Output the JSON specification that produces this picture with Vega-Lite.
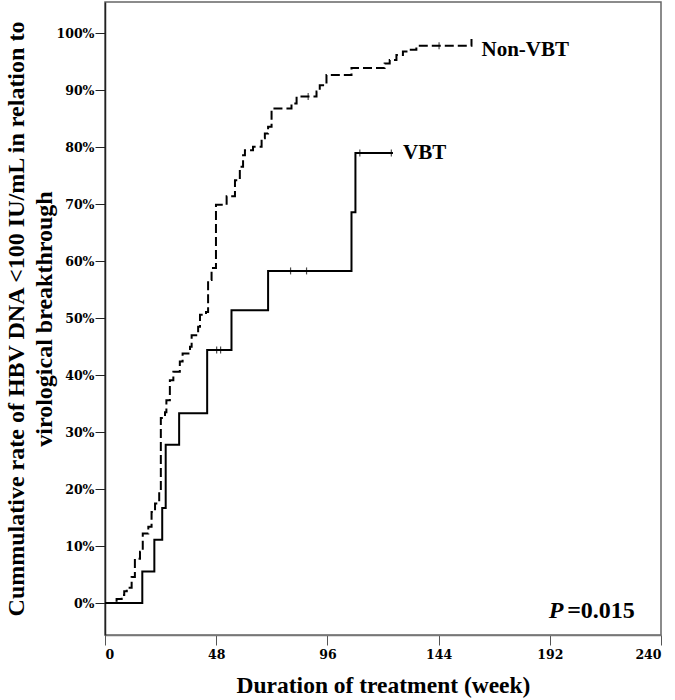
{
  "$schema": "https://vega.github.io/schema/vega-lite/v6.json",
  "width": 556,
  "height": 633,
  "autosize": {"type": "none"},
  "padding": {"left": 105, "top": 2, "right": 14, "bottom": 65},
  "config": {
    "view": {"stroke": "#666", "strokeWidth": 1.5},
    "font": "Liberation Serif"
  },
  "datasets": {
    "curves": [
      {"group": "Non-VBT", "week": 0, "rate": 0},
      {"group": "Non-VBT", "week": 5.0, "rate": 0.007},
      {"group": "Non-VBT", "week": 7.2, "rate": 0.014},
      {"group": "Non-VBT", "week": 8.3, "rate": 0.021},
      {"group": "Non-VBT", "week": 9.4, "rate": 0.027},
      {"group": "Non-VBT", "week": 11.5, "rate": 0.046},
      {"group": "Non-VBT", "week": 12.9, "rate": 0.078},
      {"group": "Non-VBT", "week": 15.1, "rate": 0.09},
      {"group": "Non-VBT", "week": 16.3, "rate": 0.122},
      {"group": "Non-VBT", "week": 18.7, "rate": 0.134},
      {"group": "Non-VBT", "week": 20.1, "rate": 0.16},
      {"group": "Non-VBT", "week": 21.6, "rate": 0.175},
      {"group": "Non-VBT", "week": 23.4, "rate": 0.195},
      {"group": "Non-VBT", "week": 24.1, "rate": 0.325},
      {"group": "Non-VBT", "week": 25.9, "rate": 0.335},
      {"group": "Non-VBT", "week": 26.5, "rate": 0.356},
      {"group": "Non-VBT", "week": 28.0, "rate": 0.391},
      {"group": "Non-VBT", "week": 29.5, "rate": 0.406},
      {"group": "Non-VBT", "week": 32.3, "rate": 0.424},
      {"group": "Non-VBT", "week": 33.5, "rate": 0.438},
      {"group": "Non-VBT", "week": 36.7, "rate": 0.45},
      {"group": "Non-VBT", "week": 37.4, "rate": 0.47},
      {"group": "Non-VBT", "week": 40.2, "rate": 0.485},
      {"group": "Non-VBT", "week": 41.0, "rate": 0.506},
      {"group": "Non-VBT", "week": 43.6, "rate": 0.511},
      {"group": "Non-VBT", "week": 44.5, "rate": 0.567},
      {"group": "Non-VBT", "week": 46.0, "rate": 0.588},
      {"group": "Non-VBT", "week": 47.9, "rate": 0.699},
      {"group": "Non-VBT", "week": 52.5, "rate": 0.714},
      {"group": "Non-VBT", "week": 56.1, "rate": 0.742},
      {"group": "Non-VBT", "week": 58.2, "rate": 0.766},
      {"group": "Non-VBT", "week": 59.6, "rate": 0.786},
      {"group": "Non-VBT", "week": 60.4, "rate": 0.795},
      {"group": "Non-VBT", "week": 63.9, "rate": 0.801},
      {"group": "Non-VBT", "week": 67.6, "rate": 0.816},
      {"group": "Non-VBT", "week": 69.0, "rate": 0.824},
      {"group": "Non-VBT", "week": 70.4, "rate": 0.836},
      {"group": "Non-VBT", "week": 71.9, "rate": 0.868},
      {"group": "Non-VBT", "week": 80.5, "rate": 0.877},
      {"group": "Non-VBT", "week": 82.7, "rate": 0.889},
      {"group": "Non-VBT", "week": 91.3, "rate": 0.898},
      {"group": "Non-VBT", "week": 92.7, "rate": 0.909},
      {"group": "Non-VBT", "week": 95.6, "rate": 0.927},
      {"group": "Non-VBT", "week": 106.4, "rate": 0.939},
      {"group": "Non-VBT", "week": 120.7, "rate": 0.947},
      {"group": "Non-VBT", "week": 122.9, "rate": 0.953},
      {"group": "Non-VBT", "week": 125.8, "rate": 0.962},
      {"group": "Non-VBT", "week": 128.6, "rate": 0.968},
      {"group": "Non-VBT", "week": 131.5, "rate": 0.971},
      {"group": "Non-VBT", "week": 134.4, "rate": 0.978},
      {"group": "Non-VBT", "week": 158.2, "rate": 0.99},
      {"group": "VBT", "week": 0, "rate": 0},
      {"group": "VBT", "week": 16.1, "rate": 0.0556},
      {"group": "VBT", "week": 21.3, "rate": 0.111},
      {"group": "VBT", "week": 24.7, "rate": 0.167},
      {"group": "VBT", "week": 26.2, "rate": 0.278},
      {"group": "VBT", "week": 32.0, "rate": 0.333},
      {"group": "VBT", "week": 44.1, "rate": 0.444},
      {"group": "VBT", "week": 54.6, "rate": 0.514},
      {"group": "VBT", "week": 70.4, "rate": 0.583},
      {"group": "VBT", "week": 106.4, "rate": 0.686},
      {"group": "VBT", "week": 108.1, "rate": 0.79},
      {"group": "VBT", "week": 124.3, "rate": 0.79}
    ],
    "censor": [
      {"group": "Non-VBT", "week": 87.7, "rate": 0.889},
      {"group": "Non-VBT", "week": 144.2, "rate": 0.978},
      {"group": "VBT", "week": 48.2, "rate": 0.444},
      {"group": "VBT", "week": 49.9, "rate": 0.444},
      {"group": "VBT", "week": 80.1, "rate": 0.583},
      {"group": "VBT", "week": 87.0, "rate": 0.583},
      {"group": "VBT", "week": 110.0, "rate": 0.79},
      {"group": "VBT", "week": 123.6, "rate": 0.79}
    ],
    "labels": [
      {"group": "Non-VBT", "week": 158.2, "rate": 0.97},
      {"group": "VBT", "week": 124.3, "rate": 0.79}
    ],
    "pvalue": [
      {"part": "P", "week": 191.5, "rate": -0.026},
      {"part": "=0.015", "week": 199.5, "rate": -0.026}
    ]
  },
  "encoding": {
    "x": {
      "field": "week", "type": "quantitative",
      "scale": {"domain": [0, 240], "nice": false, "zero": false},
      "axis": {
        "values": [0, 48, 96, 144, 192, 240],
        "title": "Duration of treatment (week)",
        "titleFontSize": 23.5, "titleFontWeight": "bold", "titleColor": "black",
        "titlePadding": 13,
        "labelFont": "DejaVu Serif",
        "labelFontSize": 12.5, "labelFontWeight": "bold", "labelColor": "black",
        "labelPadding": 3,
        "tickSize": 10, "tickColor": "#555", "domainColor": "#777", "domainWidth": 1.5,
        "grid": false
      }
    },
    "y": {
      "field": "rate", "type": "quantitative",
      "scale": {"domain": [-0.056, 1.055], "nice": false, "zero": false},
      "axis": {
        "values": [0, 0.1, 0.2, 0.3, 0.4, 0.5, 0.6, 0.7, 0.8, 0.9, 1],
        "format": ".0%",
        "title": ["Cummulative rate of HBV DNA <100 IU/mL in relation to", "virological breakthrough"],
        "titleFontSize": 24, "titleFontWeight": "bold", "titleColor": "black",
        "titleLineHeight": 28, "titlePadding": 0,
        "labelFont": "DejaVu Serif",
        "labelFontSize": 12.5, "labelFontWeight": "bold", "labelColor": "black",
        "labelPadding": 1,
        "tickSize": 10, "tickColor": "#222", "domainColor": "#222", "domainWidth": 1.5,
        "grid": false
      }
    }
  },
  "layer": [
    {
      "data": {"name": "curves"},
      "transform": [{"filter": "datum.group === 'Non-VBT'"}],
      "mark": {"type": "line", "interpolate": "step-after", "color": "black", "strokeWidth": 2, "strokeDash": [9, 4]}
    },
    {
      "data": {"name": "curves"},
      "transform": [{"filter": "datum.group === 'VBT'"}],
      "mark": {"type": "line", "interpolate": "step-after", "color": "black", "strokeWidth": 2}
    },
    {
      "data": {"name": "censor"},
      "mark": {"type": "tick", "orient": "vertical", "size": 7, "thickness": 1.2, "color": "black"}
    },
    {
      "data": {"name": "labels"},
      "mark": {"type": "text", "align": "left", "baseline": "middle", "dx": 10, "fontSize": 21, "fontWeight": "bold", "color": "black"},
      "encoding": {"text": {"field": "group"}}
    },
    {
      "data": {"name": "pvalue"},
      "transform": [{"filter": "datum.part === 'P'"}],
      "mark": {"type": "text", "align": "left", "baseline": "alphabetic", "fontSize": 24, "fontWeight": "bold", "fontStyle": "italic", "color": "black"},
      "encoding": {"text": {"field": "part"}}
    },
    {
      "data": {"name": "pvalue"},
      "transform": [{"filter": "datum.part !== 'P'"}],
      "mark": {"type": "text", "align": "left", "baseline": "alphabetic", "fontSize": 24, "fontWeight": "bold", "color": "black"},
      "encoding": {"text": {"field": "part"}}
    }
  ]
}
